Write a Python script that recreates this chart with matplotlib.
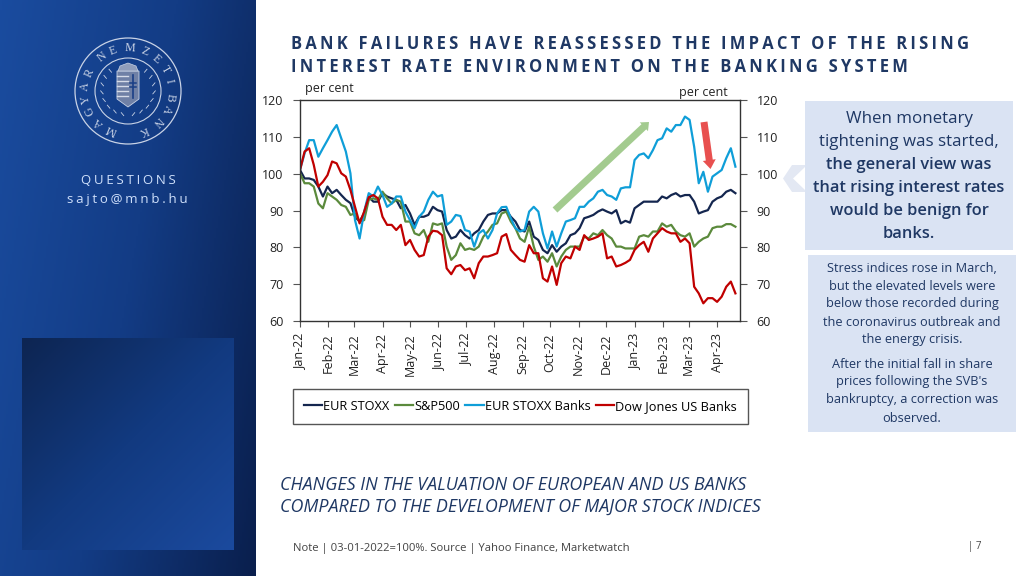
import numpy as np
import pandas as pd
import matplotlib
matplotlib.use('Agg')
import matplotlib.pyplot as plt
import matplotlib.dates as mdates
from matplotlib.patches import Circle, FancyArrow, Polygon, Rectangle

plt.rcParams['font.family'] = ['Open Sans', 'DejaVu Sans']

# values, one point every 5 days
dates = pd.date_range('2022-01-01', periods=96, freq='5D')
eur_stoxx = [101, 98.7, 98.7, 98.3, 96.5, 93.8, 96.5, 94.7, 95.6, 94.2, 92.9, 92, 88.3, 87, 89.2, 93.8,
             92.4, 92.4, 94.7, 93.8, 93.3, 92.9, 90.6, 91.5, 89.2, 86.1, 88.3, 88.3, 88.8, 91, 90.1, 89.7,
             84.7, 82.4, 82.9, 84.7, 83.3, 82.4, 83.8, 84.7, 87, 88.8, 89.2, 89.2, 90.1, 90.1, 88.3, 87,
             84.7, 84.3,
             87, 82.9, 82, 79.3, 78.4, 80.6, 78.8, 80.2, 81.1, 83.3, 83.8, 85.2, 87.9, 88.3, 88.8, 89.7,
             90.3, 89.7, 89.2, 90.1, 86.5, 87.2, 86.7, 90.6, 91.5, 92.4, 92.4, 92.4, 92.4, 93.8, 93.3, 94.2,
             94.7, 93.8, 94.2, 94.2, 92.4, 89.2, 89.7, 90.1, 92.4, 93.3, 93.8, 95.1, 95.6, 94.7]
sp500 = [100.1, 97.4, 97.4, 96.5, 91.9, 90.6, 94.7, 93.8, 92.9, 91.5, 91, 88.8, 89.2, 87, 87.4, 92.9,
         93.3, 92.9, 95.1, 93.3, 91.9, 92.9, 92.4, 87, 87, 83.8, 83.3, 84.7, 81.5, 86.5, 86.1, 86.5,
         80.2, 76.6, 77.9, 81.1, 79.3, 79.7, 79.3, 80.2, 82.9, 84.3, 86.1, 86.5, 89.2, 89.7, 87, 85.2,
         82.4, 81.5,
         85.6, 80.2, 76.6, 77.5, 76.1, 78.4, 74.8, 77.5, 79.3, 80.2, 80.2, 80.2, 82.9, 82.4, 83.8, 83.3,
         84.7, 83.3, 82.4, 80.2, 80.2, 79.7, 79.7, 79.7, 82.9, 83.3, 82.9, 84.3, 84.3, 86.5, 85.6, 86.1,
         84.3, 83.3, 82.9, 83.8, 80.2, 81.5, 82.4, 82.9, 85.2, 85.6, 85.6, 86.3, 86.3, 85.6]
eur_banks = [101, 105.5, 109.1, 109.1, 104.6, 106.9, 109.1, 111.4, 113.2, 109.6, 106, 100.1, 87.4, 82.4, 89.7, 94.7,
             93.8, 96.5, 94.2, 91, 91.9, 93.8, 93.8, 89.7, 87.4, 85.2, 88.3, 89.7, 92.9, 95.1, 93.8, 94.2,
             86.1, 87, 88.8, 88.5, 84.7, 84.3, 80.2, 83.8, 84.7, 82.4, 84.7, 89.2, 90.9, 91, 87.9, 85.2,
             84.3, 84.7,
             89.7, 91, 89.7, 83.8, 79.7, 84.3, 80.2, 83.8, 87, 87.4, 87.9, 91, 91, 92.4, 93.3, 95.1,
             95.6, 94.2, 93.8, 92.9, 96, 96.3, 96.3, 103.7, 105.1, 105.5, 104.2, 106.4, 109.1, 109.6, 112.3, 111.4,
             113.2, 113.2, 115.5, 114.6, 107.3, 97.4, 100.5, 95.1, 99.2, 100.1, 101, 104.2, 106.9, 101.9]
dj_banks = [101, 106, 106.9, 102.4, 96.5, 97.8, 99.6, 103.3, 102.8, 100.1, 99.2, 95.6, 91, 86.5, 89.7, 93.6,
            94.2, 93.3, 88.3, 86.1, 86.1, 84.7, 86.1, 80.6, 82, 79.3, 77.5, 77.9, 82.9, 84.5, 84.3, 83.3,
            74.3, 72.7, 74.8, 75.2, 73.8, 74.3, 71.6, 75.7, 77.5, 77.5, 77.9, 78.4, 82.9, 83.6, 79.3, 77.9,
            76.6, 76.1,
            80.6, 78.4, 78.4, 71.6, 70.7, 74.8, 69.8, 75.7, 77.5, 77, 80.2, 79.3, 83.3, 82, 82.4, 82.9,
            83.8, 77, 77.5, 74.8, 75.2, 75.8, 76.6, 79.3, 80.6, 81.5, 78.8, 82.4, 83.8, 85.2, 84.3, 83.8,
            83.8, 81.5, 82.4, 81.1, 69.3, 67.5, 64.8, 66.2, 66.2, 65.2, 66.6, 69.3, 70.7, 67.5]
series_names = ['EUR STOXX', 'S&P500', 'EUR STOXX Banks', 'Dow Jones US Banks']
series_colors = ['#14264f', '#5b8a3c', '#0f9ed8', '#c00000']
month_ticks = pd.date_range('2022-01-01', '2023-04-01', freq='MS')
y_ticks = [60, 70, 80, 90, 100, 110, 120]

W, H = 1024, 576
fig = plt.figure(figsize=(10.24, 5.76), dpi=100, facecolor='white')


def spaced(s, n=2):
    # letter spacing with hair spaces
    return ('\u200a' * n).join(s)


# page layer in pixel coordinates
bg = fig.add_axes([0, 0, 1, 1], zorder=0)
bg.axis('off')

# diagonal gradients for the side panel and the square on it
gx, gy = np.meshgrid(np.linspace(0, 1, 128), np.linspace(0, 1, 288))
cmap = matplotlib.colors.LinearSegmentedColormap.from_list('side', ['#1a4c9f', '#133c85', '#0a1f4d'])
bg.imshow(0.72 * gx + 0.28 * gy, extent=(0, 256, 576, 0), cmap=cmap, aspect='auto', vmin=0, vmax=1)
bx, by = np.meshgrid(np.linspace(0, 1, 100), np.linspace(0, 1, 100))
cmap2 = matplotlib.colors.LinearSegmentedColormap.from_list('box', ['#0d2552', '#123a80', '#1b4a9e'])
bg.imshow(0.5 * bx + 0.5 * by, extent=(22, 234, 550, 338), cmap=cmap2, aspect='auto', vmin=0, vmax=1)
bg.set_xlim(0, W)
bg.set_ylim(H, 0)

# logo
logo_c = (128, 91)
logo_col = '#c9d3e6'
bg.add_patch(Circle(logo_c, 53, fill=False, ec=logo_col, lw=0.9))
bg.add_patch(Circle(logo_c, 33, fill=False, ec=logo_col, lw=0.8))
ring_text = 'MAGYARNEMZETIBANK'
ring_angles = [203, 223, 243, 259, 276, 295, 322, 340, 3, 23, 41, 60, 77, 98, 115, 136, 158]
for letter, ang in zip(ring_text, ring_angles):
    a = np.radians(ang)
    bg.text(logo_c[0] + 42.5 * np.sin(a), logo_c[1] - 42.5 * np.cos(a), letter, color=logo_col, fontsize=8.5,
            family='Liberation Serif', rotation=-ang, rotation_mode='anchor', ha='center', va='center')
# crest
bg.add_patch(Polygon([(117, 71), (139, 71), (139, 99), (128, 107), (117, 99)], fc='#6f80a6', ec=logo_col, lw=0.6))
for yy in [76, 81, 86, 91, 96]:
    bg.plot([117, 127.5], [yy, yy], color='#d5dbe8', lw=1)
bg.plot([133, 133], [75, 98], color='#1a3f86', lw=1.2)
bg.plot([130, 136], [83, 83], color='#1a3f86', lw=1.1)
bg.plot([130, 136], [87, 87], color='#1a3f86', lw=1.1)
bg.add_patch(Polygon([(118, 71), (120, 66), (128, 63), (136, 66), (138, 71)], fc='#8f9dbb', ec=logo_col, lw=0.5))
# wreath
for side in (-1, 1):
    for k, t in enumerate(np.linspace(0.35, 2.6, 8)):
        px = logo_c[0] + side * 25 * np.cos(t - 1.2)
        py = logo_c[1] + 25 * np.sin(t - 1.2)
        bg.plot([px, px + side * 2.5], [py, py - 3], color=logo_col, lw=0.6)

bg.text(128, 181, spaced('QUESTIONS', 2), color='#cfe0fb', fontsize=9.5, ha='center', va='center')
bg.text(127, 200, spaced('sajto@mnb.hu', 2), color='#cfe0fb', fontsize=9.5, ha='center', va='center')

# title and bottom notes
bg.text(291, 44, spaced('BANK FAILURES HAVE REASSESSED THE IMPACT OF THE RISING'), color='#1f3864',
        fontsize=11.9, fontweight='bold', va='center')
bg.text(291, 67, spaced('INTEREST RATE ENVIRONMENT ON THE BANKING SYSTEM'), color='#1f3864',
        fontsize=11.9, fontweight='bold', va='center')
bg.text(280, 485.5, 'CHANGES IN THE VALUATION OF EUROPEAN AND US BANKS', color='#1f3864', fontsize=12.9,
        style='italic', va='center')
bg.text(280, 506.5, 'COMPARED TO THE DEVELOPMENT OF MAJOR STOCK INDICES', color='#1f3864', fontsize=12.9,
        style='italic', va='center')
bg.text(293, 549, 'Note | 03-01-2022=100%. Source | Yahoo Finance, Marketwatch', color='#444444', fontsize=8.1,
        va='center')
bg.text(968, 546, '| 7', color='#444444', fontsize=7, va='center')

# right hand boxes
bg.add_patch(Polygon([(805, 165), (792, 165), (783, 178.5), (792, 192), (805, 192)], fc='#e3e8f3', ec='none'))
bg.add_patch(Polygon([(805, 167), (793, 178.5), (805, 190)], fc='white', ec='none'))
bg.add_patch(Rectangle((805, 101), 208, 149, fc='#dae3f3', ec='none'))
bg.add_patch(Rectangle((808, 255), 208, 177, fc='#dae3f3', ec='none'))
plain_lines = [('When monetary', 119), ('tightening was started,', 142)]
bold_lines = [('the general view was', 165), ('that rising interest rates', 188), ('would be benign for', 211),
              ('banks.', 234)]
for s, yy in plain_lines:
    bg.text(909, yy, s, color='#1f3864', fontsize=12.2, ha='center', va='center')
for s, yy in bold_lines:
    bg.text(909, yy, s, color='#1f3864', fontsize=11.8, fontweight='semibold', ha='center', va='center')
small_lines = [('Stress indices rose in March,', 268), ('but the elevated levels were', 286),
               ('below those recorded during', 304), ('the coronavirus outbreak and', 322), ('the energy crisis.', 340),
               ('After the initial fall in share', 364), ('prices following the SVB\'s', 382),
               ('bankruptcy, a correction was', 400), ('observed.', 418)]
for s, yy in small_lines:
    bg.text(912, yy, s, color='#1f3864', fontsize=9.2, ha='center', va='center')

# chart
ax = fig.add_axes([300 / W, 1 - 321 / H, 440 / W, 221 / H], zorder=2)
for vals, name, col in zip([eur_stoxx, sp500, eur_banks, dj_banks], series_names, series_colors):
    ax.plot(dates, vals, color=col, lw=1.6, label=name, solid_joinstyle='round')
ax.set_xlim(pd.Timestamp('2022-01-01'), pd.Timestamp('2023-04-26'))
ax.set_ylim(60, 120)
ax.set_yticks(y_ticks)
ax.tick_params(axis='y', labelsize=9, length=5, width=0.8, color='#555555', labelcolor='#222222', pad=7,
               labelright=True, right=True)
ax.set_xticks(month_ticks)
ax.xaxis.set_major_formatter(mdates.DateFormatter('%b-%y'))
ax.tick_params(axis='x', labelsize=9, length=4, width=0.8, color='#555555', labelcolor='#222222', rotation=90, pad=5)
for sp in ax.spines.values():
    sp.set_linewidth(1)
    sp.set_color('#333333')
ax.text(0.012, 1.05, 'per cent', transform=ax.transAxes, fontsize=9, va='center', color='#222222')
ax.text(0.862, 1.036, 'per cent', transform=ax.transAxes, fontsize=9, va='center', color='#222222')
leg = ax.legend(ncol=4, loc='upper left', bbox_to_anchor=(-7 / 440, -68 / 221), borderaxespad=0, frameon=True,
                fancybox=False, edgecolor='#555555', framealpha=1, fontsize=9.2, columnspacing=0.4, handlelength=1.45,
                handletextpad=0.08, borderpad=0.85)
leg.get_frame().set_linewidth(1)

# arrows on top of the chart
top = fig.add_axes([0, 0, 1, 1], zorder=3)
top.set_xlim(0, W)
top.set_ylim(H, 0)
top.axis('off')
top.patch.set_alpha(0)
top.add_patch(FancyArrow(555, 210, 94, -88, width=7, head_width=12, head_length=7, length_includes_head=True,
                         fc='#a3cb8f', ec='none'))
top.add_patch(FancyArrow(704, 122, 6.5, 47, width=7, head_width=13, head_length=9, length_includes_head=True,
                         fc='#e8504f', ec='none'))

fig.savefig('out.png', dpi=100)
